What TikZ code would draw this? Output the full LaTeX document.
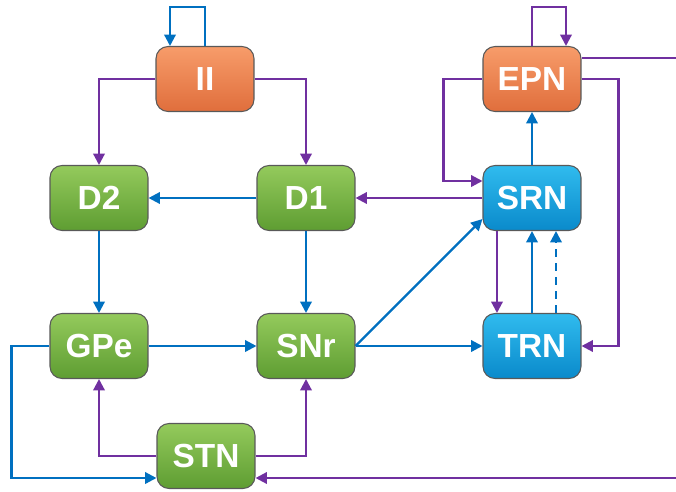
\documentclass[tikz,border=0pt]{standalone}
\usepackage{fontspec}
\setmainfont{Liberation Sans}
\usetikzlibrary{arrows.meta,calc}
\definecolor{violet}{HTML}{7030A0}
\definecolor{bleu}{HTML}{0070C0}
\definecolor{orangeT}{HTML}{F79C6A}
\definecolor{orangeB}{HTML}{E06E3C}
\definecolor{vertT}{HTML}{94CA5C}
\definecolor{vertB}{HTML}{5E9D32}
\definecolor{cielT}{HTML}{30BBEE}
\definecolor{cielB}{HTML}{0A8ACB}
\tikzset{
  box/.style={draw=black!65, line width=0.6pt, rounded corners=0.24cm,
    minimum width=1.96cm, minimum height=1.3cm, inner sep=0pt,
    text=white, font=\fontsize{19}{21}\selectfont\bfseries},
  orangebox/.style={box, top color=orangeT, bottom color=orangeB},
  vertbox/.style={box, top color=vertT, bottom color=vertB},
  cielbox/.style={box, top color=cielT, bottom color=cielB},
  bleuarr/.style={draw=bleu, line width=1.3pt, -{Triangle[length=6.5pt,width=6.5pt]}},
  violarr/.style={draw=violet, line width=1.3pt, -{Triangle[length=6.5pt,width=6.5pt]}},
  violline/.style={draw=violet, line width=1.3pt}
}
\begin{document}
\begin{tikzpicture}[x=0.02cm, y=-0.02cm]
\useasboundingbox (0,0) rectangle (676,491);
% boxes top row
\node[orangebox] (II) at (205,79) {II};
\node[orangebox] (EPN) at (532,79) {EPN};
% boxes middle row
\node[vertbox] (D2) at (99,198) {D2};
\node[vertbox] (D1) at (306,198) {D1};
\node[cielbox] (SRN) at (532,198) {SRN};
% boxes bottom row
\node[vertbox] (GPe) at (99,346) {GPe};
\node[vertbox] (SNr) at (306,346) {SNr};
\node[cielbox] (TRN) at (532,346) {TRN};
\node[vertbox] (STN) at (206,456) {STN};
% free ends on the right border
\coordinate (epnout) at (676,58) ;
\coordinate (stnin) at (676,478) ;
%% self loops
\draw[bleuarr] (II.north) -- ++(0,-39) -| ($(II.north)+(-35,0)$);
\draw[violarr] (EPN.north) -- ++(0,-39) -| ($(EPN.north)+(34,0)$);
%% II outputs
\draw[violarr] (II.west) -| (D2.north);
\draw[violarr] (II.east) -| (D1.north);
%% striatum
\draw[bleuarr] (D1.west) -- (D2.east);
\draw[violarr] (SRN.west) -- (D1.east);
\draw[bleuarr] (D2.south) -- (GPe.north);
\draw[bleuarr] (D1.south) -- (SNr.north);
%% GPe / SNr
\draw[bleuarr] (GPe.east) -- (SNr.west);
\draw[bleuarr] (SNr.east) -- (TRN.west);
\draw[bleuarr] (SNr.east) -- ($(SRN.west)+(0,21)$);
%% EPN
\draw[bleuarr] (SRN.north) -- (EPN.south);
\draw[violarr] (EPN.west) -- ++(-39,0) |- ($(SRN.west)+(0,-17)$);
\draw[violarr] (EPN.east) -- ++(37,0) |- (TRN.east);
\draw[violline] ($(EPN.east)+(0,-21)$) -- (epnout);
%% SRN / TRN
\draw[violarr] ($(SRN.south)+(-35,0)$) -- ($(TRN.north)+(-35,0)$);
\draw[bleuarr] (TRN.north) -- (SRN.south);
\draw[bleuarr, dash pattern=on 4.5pt off 3.5pt] ($(TRN.north)+(24,0)$) -- ($(SRN.south)+(24,0)$);
%% STN
\draw[violarr] (STN.west) -| (GPe.south);
\draw[violarr] (STN.east) -| (SNr.south);
\draw[bleuarr] (GPe.west) -- ++(-38,0) |- ($(STN.west)+(0,22)$);
\draw[violarr] (stnin) -- ($(STN.east)+(0,22)$);
\end{tikzpicture}
\end{document}
